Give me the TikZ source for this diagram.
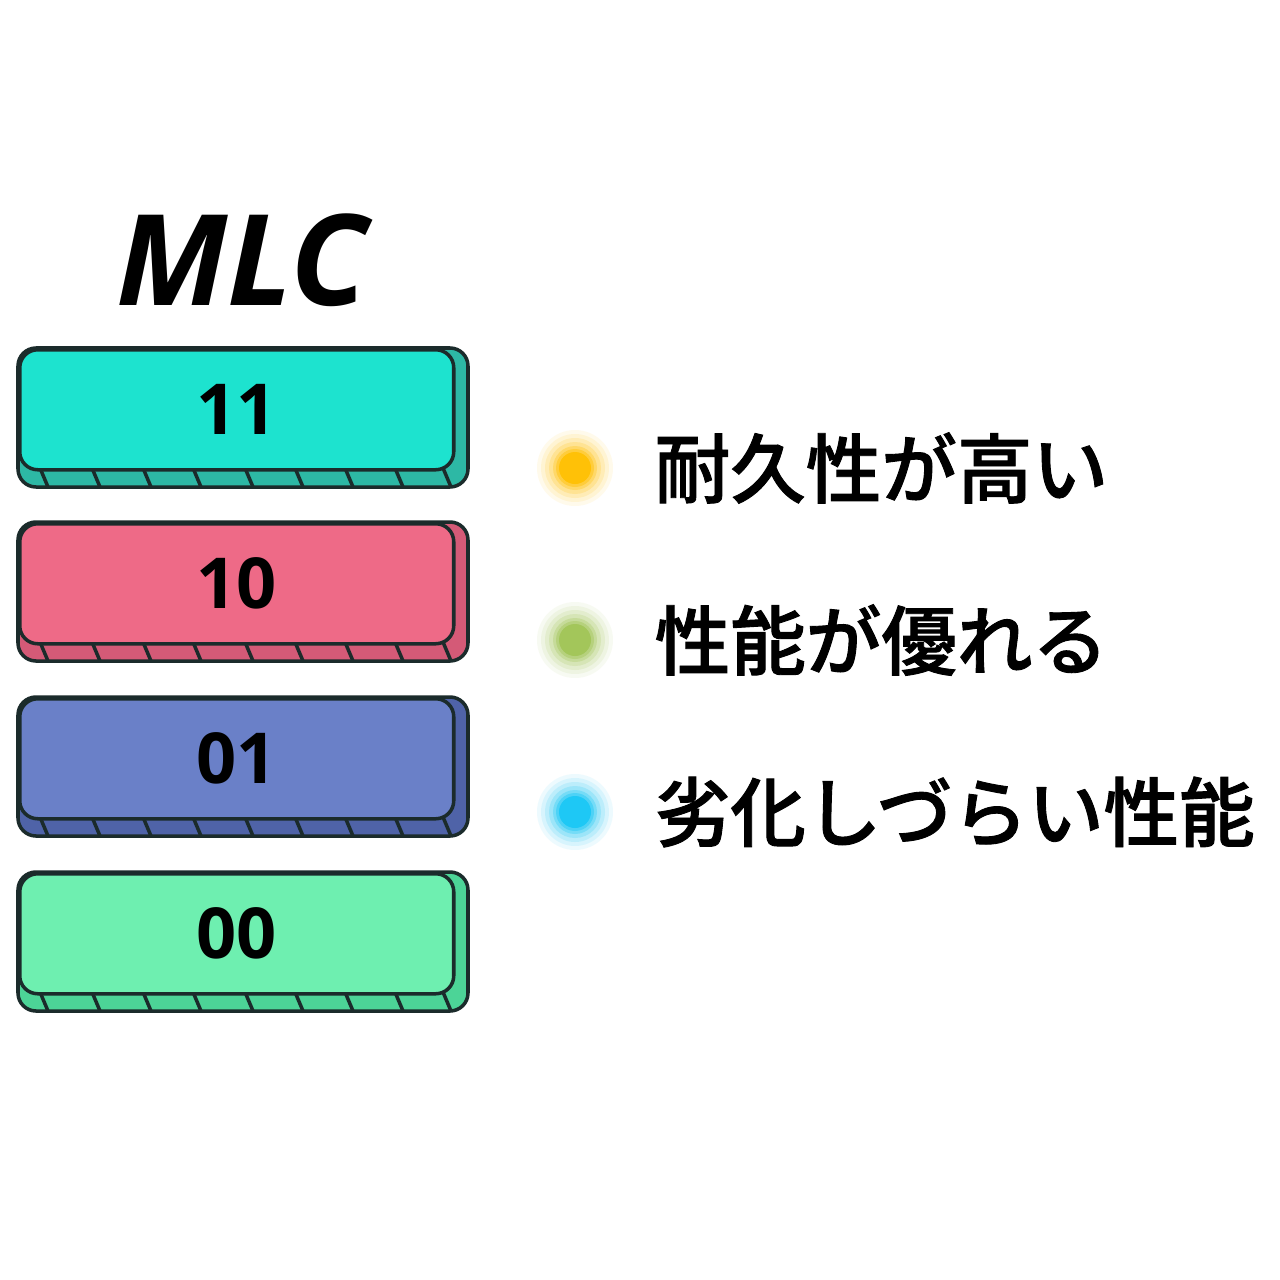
\documentclass[tikz,border=0pt]{standalone}
\usepackage{fontspec}
\setmainfont{Open Sans}
\newfontfamily\titlefont{Open Sans}
\newfontfamily\cjk[FakeBold=1.2]{Noto Sans CJK JP Medium}
\definecolor{edgec}{HTML}{1B2B2B}
\definecolor{cA}{HTML}{1DE3CF}\definecolor{dA}{HTML}{2DB8A5}
\definecolor{cB}{HTML}{EE6A87}\definecolor{dB}{HTML}{D45A77}
\definecolor{cC}{HTML}{6A80C8}\definecolor{dC}{HTML}{4F63A8}
\definecolor{cD}{HTML}{6EEFB0}\definecolor{dD}{HTML}{4CD497}
\definecolor{yel}{HTML}{FFC107}
\definecolor{grn}{HTML}{A3C65A}
\definecolor{blu}{HTML}{1EC8F5}
\newcommand\cellbox[5]{%
  \filldraw[fill=#3, draw=edgec, line width=1pt, rounded corners=1.8mm] (18,#1) rectangle (468,#1+139);
  \foreach \sx in {40,92,143,193,245,295,345,395,443}
    \draw[edgec, line width=1pt] (\sx,#1+120) -- (\sx+8,#1+139);
  \node[frontbox, fill=#2] (#5) at (18,#1) {#4};
}
\newcommand\glowdot[3]{%
  \foreach \r/\o in {38/0.08,34/0.1,30/0.14,26/0.2,22/0.3,19/0.45}
    \fill[#2, opacity=\o] (575,#1) circle[radius=\r*0.1mm];
  \fill[#2] (575,#1) circle[radius=1.6mm];
  \coordinate (#3) at (575,#1);
}
\begin{document}
\begin{tikzpicture}[x=0.1mm,y=-0.1mm,
  frontbox/.style={draw=edgec, line width=1pt, rounded corners=1.8mm, anchor=north west,
    minimum width=43.4mm, minimum height=12mm, inner sep=0pt,
    font=\titlefont\fontsize{20}{24}\selectfont\bfseries, text=black},
  label/.style={anchor=west, font=\cjk\fontsize{21.5}{26}\selectfont, text=black, inner sep=0pt}]
\useasboundingbox[fill=white] (0,0) rectangle (1280,1280);
\node[font=\titlefont\fontsize{36}{44}\selectfont\bfseries\itshape, inner sep=0pt] (title) at (242,260) {MLC};
\cellbox{348}{cA}{dA}{11}{b11}
\cellbox{522}{cB}{dB}{10}{b10}
\cellbox{697}{cC}{dC}{01}{b01}
\cellbox{872}{cD}{dD}{00}{b00}
\glowdot{468}{yel}{d1}
\glowdot{640}{grn}{d2}
\glowdot{812}{blu}{d3}
\node[label] (t1) at (654,468) {耐久性が高い};
\node[label] (t2) at (654,640) {性能が優れる};
\node[label] (t3) at (654,812) {劣化しづらい性能};
\end{tikzpicture}
\end{document}
